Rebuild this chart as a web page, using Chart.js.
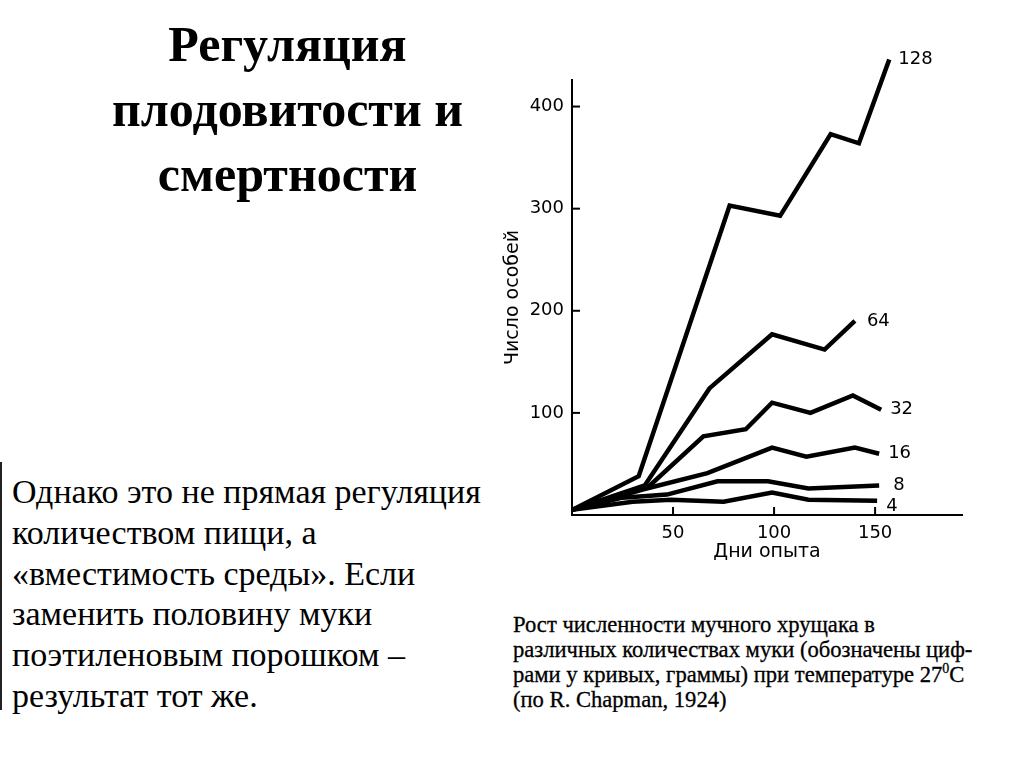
<!DOCTYPE html>
<html lang="ru">
<head>
<meta charset="utf-8">
<script src="https://cdn.jsdelivr.net/npm/chart.js@4/dist/chart.umd.min.js"></script>
<style>
  html, body { margin: 0; padding: 0; background: #fff; }
  body { width: 1024px; height: 768px; position: relative; overflow: hidden; font-family: "Liberation Serif", "Times New Roman", serif; color: #000; }
  #title { position: absolute; left: 0; top: 12px; width: 575px; text-align: center; font-weight: bold; font-size: 50px; line-height: 65px; }
  #body { position: absolute; left: 12px; top: 472px; width: 490px; font-size: 34px; line-height: 40.8px; white-space: nowrap; }
  #bar { position: absolute; left: 0; top: 462px; width: 2px; height: 248px; background: #222; }
  #caption { position: absolute; left: 513px; top: 612px; width: 465px; font-size: 22.6px; line-height: 25px; white-space: nowrap; overflow: hidden; -webkit-text-stroke: 0.3px #000; }
  #caption sup { font-size: 14px; line-height: 0; vertical-align: 0; position: relative; top: -9px; }
  #wrap { position: absolute; left: 480px; top: 30px; width: 500px; height: 560px; }
</style>
</head>
<body>
<div id="title">Регуляция<br>плодовитости и<br>смертности</div>
<div id="bar"></div>
<div id="body">Однако это не прямая регуляция<br>количеством пищи, а<br>«вместимость среды». Если<br>заменить половину муки<br>поэтиленовым порошком –<br>результат тот же.</div>
<div id="caption">Рост численности мучного хрущака в<br>различных количествах муки (обозначены циф-<br>рами у кривых, граммы) при температуре 27<sup>0</sup>С<br>(по R. Chapman, 1924)</div>
<div id="wrap"><canvas id="c" width="500" height="560"></canvas></div>
<script>
// Flour amounts (grams) labelling each curve
const seriesLabels = ['128', '64', '32', '16', '8', '4'];
// Days of experiment for each curve
const days128 = [0, 33, 78, 103, 128, 142, 157];
const days64  = [0, 36, 68, 99, 125, 140];
const days32  = [0, 38, 65, 86, 99, 118, 139, 153];
const days16  = [0, 35, 67, 99, 116, 140, 152];
const days8   = [0, 25, 47, 72, 97, 117, 152];
const days4   = [0, 30, 49, 75, 99, 117, 151];
// Number of individuals
const count128 = [5, 38, 303, 293, 373, 364, 446];
const count64  = [5, 29, 124, 177, 162, 190];
const count32  = [5, 28, 77, 84, 110, 100, 117, 103];
const count16  = [5, 25, 41, 66, 57, 66, 60];
const count8   = [5, 17, 20, 33, 33, 26, 29];
const count4   = [5, 13, 15, 13, 22, 15, 14];
// Axis ticks
const xTicks = [50, 100, 150];
const yTicks = [100, 200, 300, 400];
const xMax = 193, yMax = 426;
const xTitle = 'Дни опыта';
const yTitle = 'Число особей';

const allDays = [days128, days64, days32, days16, days8, days4];
const allCounts = [count128, count64, count32, count16, count8, count4];

const datasets = seriesLabels.map((lab, i) => ({
  label: lab,
  data: allDays[i].map((d, j) => ({ x: d, y: allCounts[i][j] })),
  borderColor: '#000',
  borderWidth: 4.5,
  borderJoinStyle: 'miter',
  pointRadius: 0,
  tension: 0,
  fill: false,
  clip: false
}));

const fam = '"DejaVu Sans", Verdana, sans-serif';
const axisFont = { family: fam, size: 18 };

const endLabels = {
  id: 'endLabels',
  afterDatasetsDraw(chart) {
    const ctx = chart.ctx;
    ctx.save();
    ctx.fillStyle = '#000';
    ctx.font = '18px ' + fam;
    ctx.textBaseline = 'middle';
    ctx.textAlign = 'left';
    chart.data.datasets.forEach((ds, i) => {
      const meta = chart.getDatasetMeta(i);
      const pt = meta.data[meta.data.length - 1];
      const dy = ds.label === '4' ? 6 : 0;
      const dx = ds.label === '8' ? 14 : (ds.label === '64' ? 12 : 9);
      ctx.fillText(ds.label, pt.x + dx, pt.y + dy);
    });
    ctx.restore();
  }
};

const innerTicks = {
  id: 'innerTicks',
  afterDraw(chart) {
    const ctx = chart.ctx;
    const xs = chart.scales.x, ys = chart.scales.y;
    ctx.save();
    ctx.strokeStyle = '#000';
    ctx.lineWidth = 2;
    xTicks.forEach(v => {
      const px = xs.getPixelForValue(v);
      ctx.beginPath(); ctx.moveTo(px, ys.bottom); ctx.lineTo(px, ys.bottom - 8); ctx.stroke();
    });
    yTicks.forEach(v => {
      const py = ys.getPixelForValue(v);
      ctx.beginPath(); ctx.moveTo(xs.left, py); ctx.lineTo(xs.left + 8, py); ctx.stroke();
    });
    ctx.restore();
  }
};

new Chart(document.getElementById('c'), {
  type: 'line',
  data: { datasets },
  options: {
    responsive: false,
    animation: false,
    layout: { padding: { top: 50, right: 18, bottom: 20, left: 0 } },
    plugins: { legend: { display: false }, tooltip: { enabled: false }, title: { display: false } },
    scales: {
      x: {
        type: 'linear', min: 0, max: xMax,
        afterBuildTicks: s => { s.ticks = xTicks.map(v => ({ value: v })); },
        afterFit: s => { s.height = 55; },
        grid: { display: false, drawTicks: false },
        border: { display: true, color: '#000', width: 2 },
        ticks: { color: '#000', font: axisFont, padding: 8, maxRotation: 0 },
        title: { display: true, text: xTitle, color: '#000', font: { family: fam, size: 19 }, padding: { top: 0, bottom: 7 } }
      },
      y: {
        type: 'linear', min: 0, max: yMax,
        afterBuildTicks: s => { s.ticks = yTicks.map(v => ({ value: v })); },
        afterFit: s => { s.width = 92; },
        grid: { display: false, drawTicks: false },
        border: { display: true, color: '#000', width: 2 },
        ticks: { color: '#000', font: axisFont, padding: 8 },
        title: { display: true, text: yTitle, color: '#000', font: { family: fam, size: 19 }, padding: { top: 22, bottom: 0 } }
      }
    }
  },
  plugins: [endLabels, innerTicks]
});
</script>
</body>
</html>
